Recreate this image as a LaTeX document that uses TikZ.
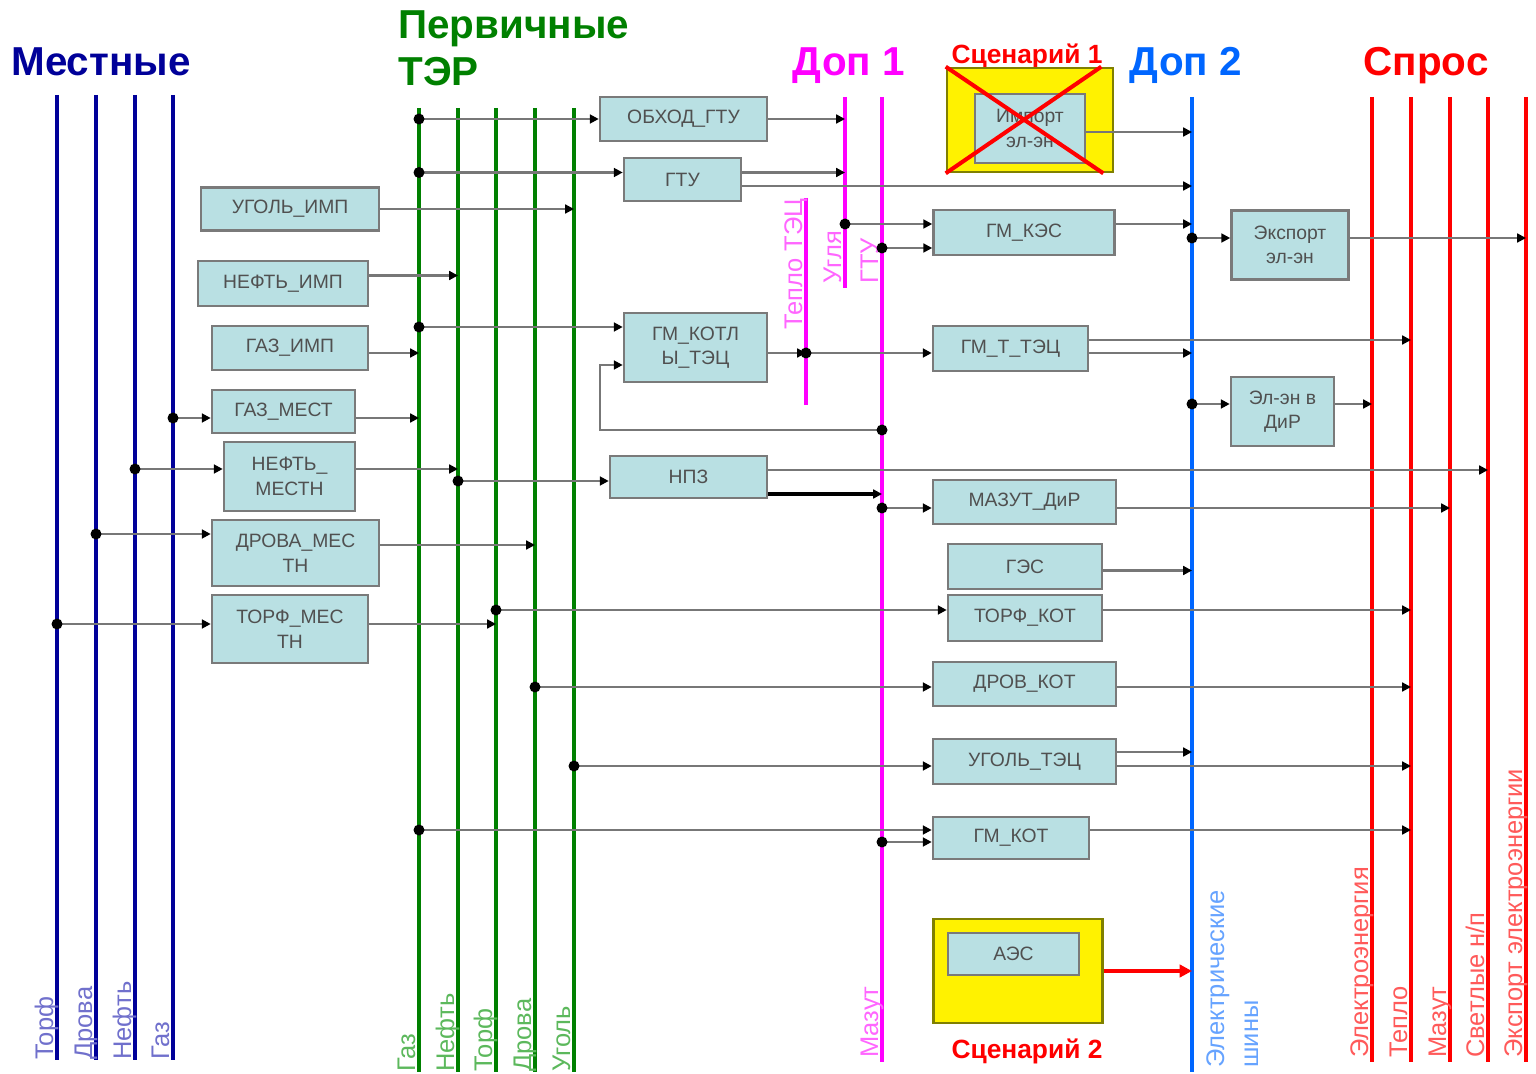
\documentclass[tikz,border=0pt]{standalone}
\usepackage{fontspec}
\setmainfont{Liberation Sans}
\usetikzlibrary{arrows.meta}

\definecolor{locblue}{HTML}{000099}
\definecolor{loclab}{HTML}{7070CC}
\definecolor{primgreen}{HTML}{008000}
\definecolor{primlab}{HTML}{5CB85C}
\definecolor{dopmag}{HTML}{FF00FF}
\definecolor{maglab}{HTML}{FF66FF}
\definecolor{dopblue}{HTML}{0066FF}
\definecolor{bluelab}{HTML}{66A3FF}
\definecolor{demred}{HTML}{FF0000}
\definecolor{redlab}{HTML}{FF5A5A}
\definecolor{boxfill}{HTML}{B9E0E3}
\definecolor{boxline}{HTML}{7A7A7A}
\definecolor{boxtext}{HTML}{505050}
\definecolor{flowgray}{HTML}{777777}
\definecolor{yelline}{HTML}{808000}

\tikzset{
  plant/.style={draw=boxline, line width=1.5pt, fill=boxfill, text=boxtext, align=center, inner sep=1pt, font=\fontsize{11}{14}\selectfont},
  yelbox/.style={draw=yelline, line width=1.5pt, fill=yellow},
  bus/.style={line width=2.3pt},
  flow/.style={->, draw=flowgray, line width=1.2pt},
  heavy/.style={->, draw=black, line width=2.2pt},
  redarrow/.style={-{Triangle[length=7pt,width=7pt]}, draw=demred, line width=2.3pt},
  buslab/.style={rotate=90, inner sep=0pt, anchor=base west, font=\fontsize{14.5}{17}\selectfont},
  headtxt/.style={font=\bfseries\fontsize{23}{27.2}\selectfont, inner sep=0pt, anchor=base},
  scentxt/.style={font=\bfseries\fontsize{15}{18}\selectfont, text=demred, inner sep=0pt, anchor=base},
  >={Triangle[length=5pt,width=5pt,color=black]}
}

\begin{document}
\begin{tikzpicture}[x=0.02cm, y=-0.02cm]
\useasboundingbox (0,0) rectangle (1536,1074);

% headers
\node[headtxt, text=locblue] (hLoc) at (101,76) {Местные};
\node[headtxt, text=primgreen, align=left, anchor=north west] (hPrim) at (398,10) {Первичные\\ТЭР};
\node[headtxt, text=dopmag] (hDop1) at (849,76) {Доп 1};
\node[scentxt] (hScen1) at (1027,64) {Сценарий 1};
\node[headtxt, text=dopblue] (hDop2) at (1186,76) {Доп 2};
\node[headtxt, text=demred] (hDem) at (1426,76) {Спрос};
\node[scentxt] (hScen2) at (1027,1058) {Сценарий 2};

% local buses
\foreach \n/\x/\t in {lTorf/57/Торф, lDrov/96/Дрова, lNeft/135/Нефть, lGas/173/Газ} {
  \coordinate (\n) at (\x,95);
  \draw[bus, locblue] (\n) -- (\x,1060);
  \node[buslab, text=loclab] (t\n) at (\x-4,1060) {\t};
}

% primary buses
\foreach \n/\x/\t in {pGas/419/Газ, pNeft/458/Нефть, pTorf/496/Торф, pDrov/535/Дрова, pUgol/574/Уголь} {
  \coordinate (\n) at (\x,108);
  \draw[bus, primgreen] (\n) -- (\x,1072);
  \node[buslab, text=primlab] (t\n) at (\x-4,1072) {\t};
}

% dop 1
\coordinate (dTep) at (806,198);
\coordinate (dUgl) at (845,97);
\coordinate (dMaz) at (882,97);
\draw[bus, dopmag] (dTep) -- (806,405);
\draw[bus, dopmag] (dUgl) -- (845,288);
\draw[bus, dopmag] (dMaz) -- (882,1062);
\node[buslab, text=maglab, anchor=base east] (tTep) at (802,198) {Тепло ТЭЦ};
\node[buslab, text=maglab] (tUgl) at (841,284) {Угля};
\node[buslab, text=maglab] (tGtu) at (878,284) {ГТУ};
\node[buslab, text=maglab] (tMaz) at (878,1058) {Мазут};

% dop 2
\coordinate (el) at (1192,97);
\draw[bus, dopblue] (el) -- (1192,1072);
\node[buslab, text=bluelab, align=left, anchor=north west, font=\fontsize{14.5}{19.3}\selectfont] (tEl) at (1206,1068) {Электрические\\шины};

% demand buses
\foreach \n/\x/\t in {sEl/1372/Электроэнергия, sTep/1411/Тепло, sMaz/1450/Мазут, sNp/1488/{Светлые н/п}, sExp/1526/Экспорт электроэнергии} {
  \coordinate (\n) at (\x,97);
  \draw[bus, demred] (\n) -- (\x,1062);
  \node[buslab, text=redlab] (t\n) at (\x-4,1058) {\t};
}

% units
\node[plant, minimum width=3.34cm, minimum height=0.88cm] (obhod) at (683.5,119) {ОБХОД\_ГТУ};
\node[plant, minimum width=2.34cm, minimum height=0.86cm] (gtu) at (682.5,179.5) {ГТУ};
\node[plant, minimum width=3.56cm, minimum height=0.86cm] (ugolimp) at (290,209) {УГОЛЬ\_ИМП};
\node[plant, minimum width=3.40cm, minimum height=0.90cm] (neftimp) at (283,283.5) {НЕФТЬ\_ИМП};
\node[plant, minimum width=3.12cm, minimum height=0.88cm] (gazimp) at (290,348) {ГАЗ\_ИМП};
\node[plant, minimum width=2.86cm, minimum height=1.38cm] (gmkotl) at (695.5,347.5) {ГМ\_КОТЛ\\Ы\_ТЭЦ};
\node[plant, minimum width=2.86cm, minimum height=0.86cm] (gazmest) at (283.5,411.5) {ГАЗ\_МЕСТ};
\node[plant, minimum width=2.62cm, minimum height=1.38cm] (neftmest) at (289.5,476.5) {НЕФТЬ\_\\МЕСТН};
\node[plant, minimum width=3.34cm, minimum height=1.32cm] (drovamest) at (295.5,553) {ДРОВА\_МЕС\\ТН};
\node[plant, minimum width=3.12cm, minimum height=1.36cm] (torfmest) at (290,629) {ТОРФ\_МЕС\\ТН};
\node[plant, minimum width=3.14cm, minimum height=0.84cm] (npz) at (688.5,477) {НПЗ};
\node[plant, minimum width=3.62cm, minimum height=0.90cm] (gmkes) at (1024,232.5) {ГМ\_КЭС};
\node[plant, minimum width=2.34cm, minimum height=1.38cm] (export) at (1290,245) {Экспорт\\эл-эн};
\node[plant, minimum width=3.10cm, minimum height=0.90cm] (gmttec) at (1010.5,348.5) {ГМ\_Т\_ТЭЦ};
\node[plant, minimum width=2.06cm, minimum height=1.38cm] (eldir) at (1282.5,411.5) {Эл-эн в\\ДиР};
\node[plant, minimum width=3.66cm, minimum height=0.88cm] (mazutdir) at (1024.5,502) {МАЗУТ\_ДиР};
\node[plant, minimum width=3.08cm, minimum height=0.90cm] (ges) at (1025,566.5) {ГЭС};
\node[plant, minimum width=3.08cm, minimum height=0.92cm] (torfkot) at (1025,618) {ТОРФ\_КОТ};
\node[plant, minimum width=3.66cm, minimum height=0.88cm] (drovkot) at (1024.5,684) {ДРОВ\_КОТ};
\node[plant, minimum width=3.66cm, minimum height=0.90cm] (ugoltec) at (1024.5,761.5) {УГОЛЬ\_ТЭЦ};
\node[plant, minimum width=3.12cm, minimum height=0.84cm] (gmkot) at (1011,838) {ГМ\_КОТ};

% scenarios
\node[yelbox, minimum width=3.32cm, minimum height=2.08cm] (impbox) at (1030,120) {};
\node[plant, minimum width=2.20cm, minimum height=1.38cm] (import) at (1030,128.5) {Импорт\\эл-эн};
\draw[demred, line width=2.3pt] (impbox.north west) -- ([xshift=-0.22cm]impbox.south east);
\draw[demred, line width=2.3pt] ([xshift=-0.26cm]impbox.north east) -- (impbox.south west);
\node[yelbox, minimum width=3.38cm, minimum height=2.08cm] (aesbox) at (1018,971) {};
\node[plant, minimum width=2.62cm, minimum height=0.84cm] (aes) at (1013.5,954) {АЭС};

% ports
\coordinate (gtuIn) at ([yshift=0.14cm]gtu.west);
\coordinate (gtuOutA) at ([yshift=0.14cm]gtu.east);
\coordinate (gtuOutB) at ([yshift=-0.13cm]gtu.east);
\coordinate (neftimpOut) at ([yshift=0.16cm]neftimp.east);
\coordinate (gazimpOut) at ([yshift=-0.1cm]gazimp.east);
\coordinate (kotlInA) at ([yshift=0.41cm]gmkotl.west);
\coordinate (kotlInB) at ([yshift=-0.35cm]gmkotl.west);
\coordinate (kotlOut) at ([yshift=-0.11cm]gmkotl.east);
\coordinate (gmestIn) at ([yshift=-0.13cm]gazmest.west);
\coordinate (gmestOut) at ([yshift=-0.13cm]gazmest.east);
\coordinate (nmestIn) at ([yshift=0.15cm]neftmest.west);
\coordinate (nmestOut) at ([yshift=0.15cm]neftmest.east);
\coordinate (npzIn) at ([yshift=-0.08cm]npz.west);
\coordinate (npzOutA) at ([yshift=0.14cm]npz.east);
\coordinate (npzOutB) at ([yshift=-0.34cm]npz.east);
\coordinate (dmestIn) at ([yshift=0.38cm]drovamest.west);
\coordinate (dmestOut) at ([yshift=0.16cm]drovamest.east);
\coordinate (tmestIn) at ([yshift=0.1cm]torfmest.west);
\coordinate (tmestOut) at ([yshift=0.1cm]torfmest.east);
\coordinate (tkotIn) at ([yshift=0.16cm]torfkot.west);
\coordinate (tkotOut) at ([yshift=0.16cm]torfkot.east);
\coordinate (dkotIn) at ([yshift=-0.06cm]drovkot.west);
\coordinate (dkotOut) at ([yshift=-0.06cm]drovkot.east);
\coordinate (utecIn) at ([yshift=-0.09cm]ugoltec.west);
\coordinate (utecOutA) at ([yshift=0.19cm]ugoltec.east);
\coordinate (utecOutB) at ([yshift=-0.09cm]ugoltec.east);
\coordinate (gkotInA) at ([yshift=0.16cm]gmkot.west);
\coordinate (gkotInB) at ([yshift=-0.08cm]gmkot.west);
\coordinate (gkotOut) at ([yshift=0.16cm]gmkot.east);
\coordinate (kesInA) at ([yshift=0.17cm]gmkes.west);
\coordinate (kesInB) at ([yshift=-0.31cm]gmkes.west);
\coordinate (kesOut) at ([yshift=0.17cm]gmkes.east);
\coordinate (expIn) at ([yshift=0.14cm]export.west);
\coordinate (expOut) at ([yshift=0.14cm]export.east);
\coordinate (impOut) at ([yshift=-0.07cm]import.east);
\coordinate (tecIn) at ([yshift=-0.09cm]gmttec.west);
\coordinate (tecOutA) at ([yshift=0.17cm]gmttec.east);
\coordinate (tecOutB) at ([yshift=-0.09cm]gmttec.east);
\coordinate (dirIn) at ([yshift=0.15cm]eldir.west);
\coordinate (dirOut) at ([yshift=0.15cm]eldir.east);
\coordinate (mdirIn) at ([yshift=-0.12cm]mazutdir.west);
\coordinate (mdirOut) at ([yshift=-0.12cm]mazutdir.east);
\coordinate (gesOut) at ([yshift=-0.08cm]ges.east);
\coordinate (bend) at (600,430);

% flows
\draw[flow] (pGas |- obhod.west) -- (obhod.west);
\draw[flow] (obhod.east) -- (dUgl |- obhod.east);
\draw[flow] (pGas |- gtuIn) -- (gtuIn);
\draw[flow] (gtuOutA) -- (dUgl |- gtuOutA);
\draw[flow] (gtuOutB) -- (el |- gtuOutB);
\draw[flow] (ugolimp.east) -- (pUgol |- ugolimp.east);
\draw[flow] (neftimpOut) -- (pNeft |- neftimpOut);
\draw[flow] (gazimpOut) -- (pGas |- gazimpOut);
\draw[flow] (pGas |- kotlInA) -- (kotlInA);
\draw[flow] (dMaz |- bend) -- (bend) |- (kotlInB);
\draw[flow] (kotlOut) -- (dTep |- kotlOut);
\draw[flow] (dTep |- kotlOut) -- (tecIn);
\draw[flow] (lGas |- gmestIn) -- (gmestIn);
\draw[flow] (gmestOut) -- (pGas |- gmestOut);
\draw[flow] (lNeft |- nmestIn) -- (nmestIn);
\draw[flow] (nmestOut) -- (pNeft |- nmestOut);
\draw[flow] (pNeft |- npzIn) -- (npzIn);
\draw[flow] (npzOutA) -- (sNp |- npzOutA);
\draw[heavy] (npzOutB) -- (dMaz |- npzOutB);
\draw[flow] (lDrov |- dmestIn) -- (dmestIn);
\draw[flow] (dmestOut) -- (pDrov |- dmestOut);
\draw[flow] (lTorf |- tmestIn) -- (tmestIn);
\draw[flow] (tmestOut) -- (pTorf |- tmestOut);
\draw[flow] (pTorf |- tkotIn) -- (tkotIn);
\draw[flow] (tkotOut) -- (sTep |- tkotOut);
\draw[flow] (pDrov |- dkotIn) -- (dkotIn);
\draw[flow] (dkotOut) -- (sTep |- dkotOut);
\draw[flow] (pUgol |- utecIn) -- (utecIn);
\draw[flow] (utecOutA) -- (el |- utecOutA);
\draw[flow] (utecOutB) -- (sTep |- utecOutB);
\draw[flow] (pGas |- gkotInA) -- (gkotInA);
\draw[flow] (dMaz |- gkotInB) -- (gkotInB);
\draw[flow] (gkotOut) -- (sTep |- gkotOut);
\draw[flow] (dUgl |- kesInA) -- (kesInA);
\draw[flow] (dMaz |- kesInB) -- (kesInB);
\draw[flow] (kesOut) -- (el |- kesOut);
\draw[flow] (el |- expIn) -- (expIn);
\draw[flow] (expOut) -- (sExp |- expOut);
\draw[flow] (impOut) -- (el |- impOut);
\draw[flow] (tecOutA) -- (sTep |- tecOutA);
\draw[flow] (tecOutB) -- (el |- tecOutB);
\draw[flow] (el |- dirIn) -- (dirIn);
\draw[flow] (dirOut) -- (sEl |- dirOut);
\draw[flow] (dMaz |- mdirIn) -- (mdirIn);
\draw[flow] (mdirOut) -- (sMaz |- mdirOut);
\draw[flow] (gesOut) -- (el |- gesOut);
\draw[redarrow] (aesbox.east) -- (el |- aesbox.east);

% junction dots
\foreach \b/\p in {pGas/obhod.west, pGas/gtuIn, pGas/kotlInA, dMaz/bend, dTep/kotlOut,
  lGas/gmestIn, lNeft/nmestIn, pNeft/npzIn, lDrov/dmestIn, lTorf/tmestIn, pTorf/tkotIn,
  pDrov/dkotIn, pUgol/utecIn, pGas/gkotInA, dMaz/gkotInB, dUgl/kesInA, dMaz/kesInB,
  el/expIn, el/dirIn, dMaz/mdirIn}
  \fill (\b |- \p) circle (0.11cm);
\end{tikzpicture}
\end{document}
